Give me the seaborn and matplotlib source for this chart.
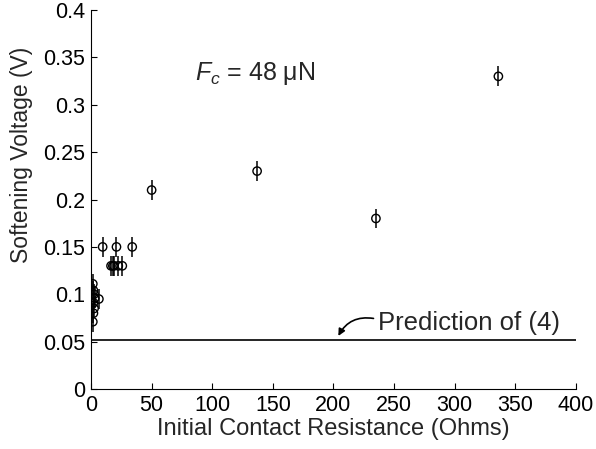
import numpy as np
import pandas as pd
import seaborn as sns
import matplotlib.pyplot as plt

# data
resistance = [1.5, 2.0, 2.5, 2.0, 3.0, 2.5, 2.0, 1.5, 6.5,
              9.6, 21.0, 34.0, 16.5, 18.0, 19.0, 22.5, 25.8,
              50.0, 137.0, 235.0, 336.0]
voltage = [0.071, 0.080, 0.085, 0.091, 0.096, 0.100, 0.104, 0.111, 0.095,
           0.15, 0.15, 0.15, 0.13, 0.13, 0.13, 0.13, 0.13,
           0.21, 0.23, 0.18, 0.33]
err = [0.0105] * len(voltage)
prediction = 0.052

df = pd.DataFrame({'R': resistance, 'V': voltage, 'err': err})

sns.set_style('ticks')
plt.rcParams['font.family'] = ['Liberation Sans', 'DejaVu Sans']
plt.rcParams['mathtext.fontset'] = 'custom'
plt.rcParams['mathtext.it'] = 'Liberation Sans:italic'
plt.rcParams['mathtext.rm'] = 'Liberation Sans'

fig = plt.figure(figsize=(5.96, 4.49), dpi=100)
ax = fig.add_axes([0.1527, 0.1336, 0.8137, 0.8441])

ax.errorbar(df['R'], df['V'], yerr=df['err'], fmt='none', ecolor='black',
            elinewidth=1.1, capsize=0)
sns.scatterplot(data=df, x='R', y='V', marker='o', s=36, facecolor='none',
                edgecolor='black', linewidth=1.0, ax=ax, zorder=3)

ax.axhline(prediction, color='black', linewidth=1.2)

ax.set_xlim(0, 400)
ax.set_ylim(0, 0.4)
ax.set_xticks(np.arange(0, 401, 50))
ax.set_yticks(np.arange(0, 0.401, 0.05))
ax.set_yticklabels(['0', '0.05', '0.1', '0.15', '0.2', '0.25', '0.3', '0.35', '0.4'])
ax.tick_params(direction='in', length=4, labelsize=15.5, color='black', labelcolor='black', pad=4)
sns.despine(ax=ax)
ax.spines['left'].set_color('black')
ax.spines['bottom'].set_color('black')

ax.set_xlabel('Initial Contact Resistance (Ohms)', fontsize=17, labelpad=2)
ax.set_ylabel('Softening Voltage (V)', fontsize=16.5)
ax.yaxis.set_label_coords(-0.12, 0.617)

ax.text(86, 0.333, r'$F_c$ = 48 $\mathrm{\mu}$N', fontsize=18, va='center')
ax.text(237, 0.0697, 'Prediction of (4)', fontsize=18.5, va='center')
ax.annotate('', xy=(204, 0.056), xytext=(233, 0.0745),
            arrowprops=dict(arrowstyle='-|>', color='black', lw=1.2,
                            connectionstyle='arc3,rad=0.35', shrinkA=0, shrinkB=0))

fig.savefig('out.png', dpi=100)
